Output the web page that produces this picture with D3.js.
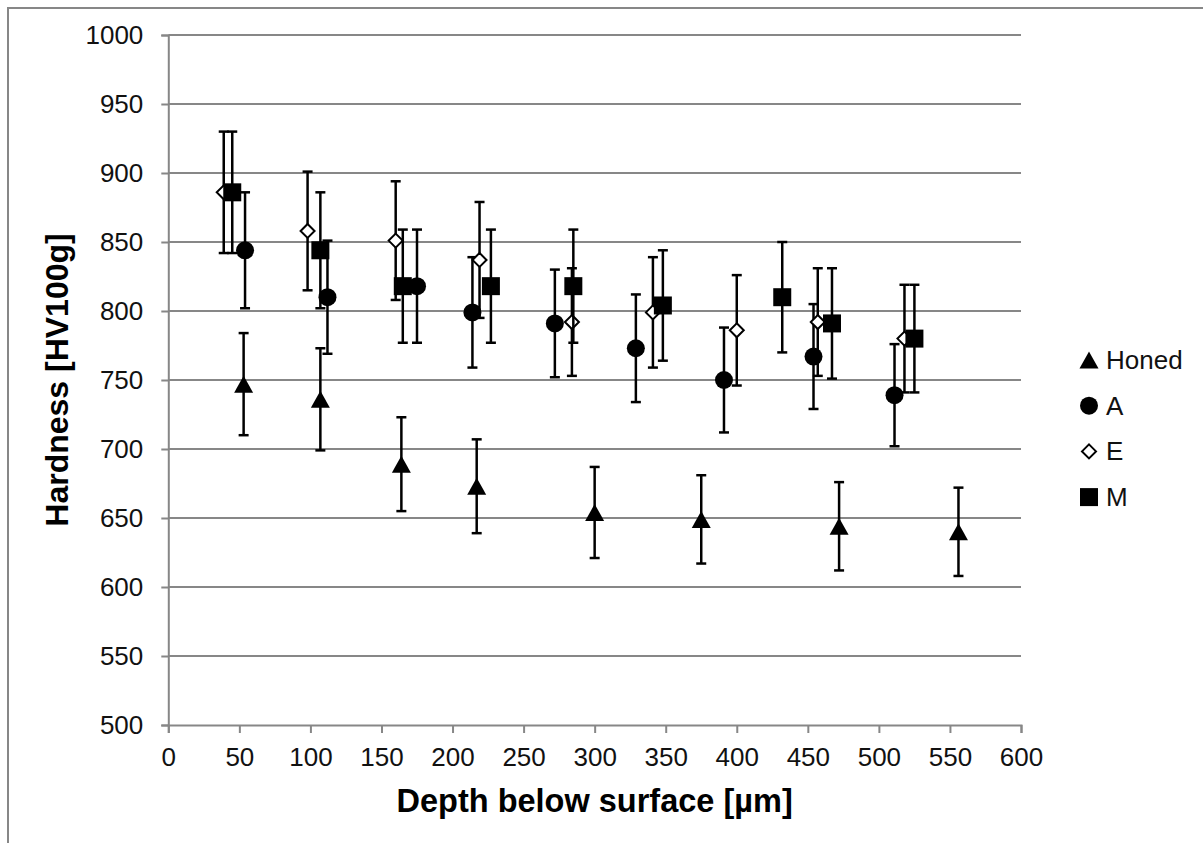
<!DOCTYPE html>
<html>
<head>
<meta charset="utf-8">
<script src="https://cdn.jsdelivr.net/npm/d3@7"></script>
<style>
  html, body { margin: 0; padding: 0; background: #fff; }
  svg { display: block; font-family: "Liberation Sans", Arial, sans-serif; }
</style>
</head>
<body>
<svg id="chart" width="1203" height="843"></svg>
<script>
// ---- Data ----
const honedX   = [53, 107, 164, 217, 300, 375, 472, 556];
const honedY   = [747, 736, 689, 673, 654, 649, 644, 640];
const honedErr = [37, 37, 34, 34, 33, 32, 32, 32];

const aX   = [54, 112, 175, 214, 272, 329, 391, 454, 511];
const aY   = [844, 810, 818, 799, 791, 773, 750, 767, 739];
const aErr = [42, 41, 41, 40, 39, 39, 38, 38, 37];

const eX   = [39, 98, 160, 219, 284, 341, 400, 457, 518];
const eY   = [886, 858, 851, 837, 792, 799, 786, 792, 780];
const eErr = [44, 43, 43, 42, 39, 40, 40, 39, 39];

const mX   = [45, 107, 165, 227, 285, 348, 432, 467, 525];
const mY   = [886, 844, 818, 818, 818, 804, 810, 791, 780];
const mErr = [44, 42, 41, 41, 41, 40, 40, 40, 39];

const seriesNames = ["Honed", "A", "E", "M"];
const xTicks = [0, 50, 100, 150, 200, 250, 300, 350, 400, 450, 500, 550, 600];
const yTicks = [500, 550, 600, 650, 700, 750, 800, 850, 900, 950, 1000];
const xTitle = "Depth below surface [µm]";
const yTitle = "Hardness [HV100g]";

// ---- Layout ----
const svg = d3.select("#chart");
const L = 168.3, R = 1021, T = 35, B = 725;
const gridColor = "#878787";

const x = d3.scaleLinear().domain([0, 600]).range([L, R]);
const y = d3.scaleLinear().domain([500, 1000]).range([B, T]);

// outer chart border (extends beyond the viewport on right/bottom)
svg.append("rect")
  .attr("x", 8).attr("y", 8).attr("width", 1400).attr("height", 1000)
  .attr("fill", "none").attr("stroke", gridColor).attr("stroke-width", 2);

// gridlines
svg.append("g").selectAll("line").data(yTicks.filter(v => v > 500)).join("line")
  .attr("x1", L).attr("x2", R)
  .attr("y1", d => y(d)).attr("y2", d => y(d))
  .attr("stroke", gridColor).attr("stroke-width", 2);

// y axis
const yAxis = svg.append("g").attr("transform", `translate(${L},0)`)
  .call(d3.axisLeft(y).tickValues(yTicks).tickSize(7).tickPadding(18).tickFormat(d3.format("d")));
// x axis
const xAxis = svg.append("g").attr("transform", `translate(0,${B})`)
  .call(d3.axisBottom(x).tickValues(xTicks).tickSize(8).tickPadding(15).tickFormat(d3.format("d")));

[yAxis, xAxis].forEach(ax => {
  ax.select(".domain").attr("stroke", gridColor).attr("stroke-width", 2);
  ax.selectAll(".tick line").attr("stroke", gridColor).attr("stroke-width", 2);
  ax.selectAll(".tick text").attr("fill", "#111").attr("font-size", 26)
    .attr("font-family", "'Liberation Sans', Arial, sans-serif");
});

// axis titles
svg.append("text")
  .attr("x", (L + R) / 2).attr("y", 812)
  .attr("text-anchor", "middle").attr("font-weight", "bold").attr("font-size", 32.5)
  .attr("fill", "#000").text(xTitle);
svg.append("text")
  .attr("transform", `translate(68,${(T + B) / 2}) rotate(-90)`)
  .attr("text-anchor", "middle").attr("font-weight", "bold").attr("font-size", 32)
  .attr("fill", "#000").text(yTitle);

// ---- marker shapes (paths centred on bounding box) ----
function markerPath(type) {
  if (type === "tri") { const w = 9.5, h = 8.5; return `M0,${-h}L${w},${h}L${-w},${h}Z`; }
  if (type === "circ") { const r = 9; return `M${r},0A${r},${r} 0 1,1 ${-r},0A${r},${r} 0 1,1 ${r},0Z`; }
  if (type === "dia") { const s = 7; return `M0,${-s}L${s},0L0,${s}L${-s},0Z`; }
  if (type === "sq") { const s = 9; return `M${-s},${-s}H${s}V${s}H${-s}Z`; }
}
const shapes = ["tri", "circ", "dia", "sq"];
const fills = ["#000", "#000", "#fff", "#000"];
const strokes = ["none", "none", "#000", "none"];

const allSeries = [
  { xs: honedX, ys: honedY, es: honedErr },
  { xs: aX, ys: aY, es: aErr },
  { xs: eX, ys: eY, es: eErr },
  { xs: mX, ys: mY, es: mErr }
];

const plot = svg.append("g");
allSeries.forEach((s, si) => {
  const data = s.xs.map((xv, i) => ({ x: xv, y: s.ys[i], e: s.es[i] }));
  const g = plot.append("g");
  const eb = g.append("g").attr("stroke", "#000").attr("stroke-width", 2.5);
  eb.selectAll("line.v").data(data).join("line").attr("class", "v")
    .attr("x1", d => x(d.x)).attr("x2", d => x(d.x))
    .attr("y1", d => y(d.y + d.e)).attr("y2", d => y(d.y - d.e));
  eb.selectAll("line.t").data(data).join("line").attr("class", "t")
    .attr("x1", d => x(d.x) - 5).attr("x2", d => x(d.x) + 5)
    .attr("y1", d => y(d.y + d.e)).attr("y2", d => y(d.y + d.e));
  eb.selectAll("line.b").data(data).join("line").attr("class", "b")
    .attr("x1", d => x(d.x) - 5).attr("x2", d => x(d.x) + 5)
    .attr("y1", d => y(d.y - d.e)).attr("y2", d => y(d.y - d.e));
  g.selectAll("path").data(data).join("path")
    .attr("d", markerPath(shapes[si]))
    .attr("transform", d => `translate(${x(d.x)},${y(d.y)})`)
    .attr("fill", fills[si]).attr("stroke", strokes[si]).attr("stroke-width", 2);
});

// ---- legend ----
const legend = svg.append("g");
const legY0 = 360, legDy = 45.7;
seriesNames.forEach((name, i) => {
  const gy = legY0 + i * legDy;
  legend.append("path").attr("d", markerPath(shapes[i]))
    .attr("transform", `translate(1089,${gy})`)
    .attr("fill", fills[i]).attr("stroke", strokes[i]).attr("stroke-width", 2);
  legend.append("text").attr("x", 1106).attr("y", gy + 9)
    .attr("font-size", 26).attr("fill", "#111").text(name);
});
</script>
</body>
</html>
